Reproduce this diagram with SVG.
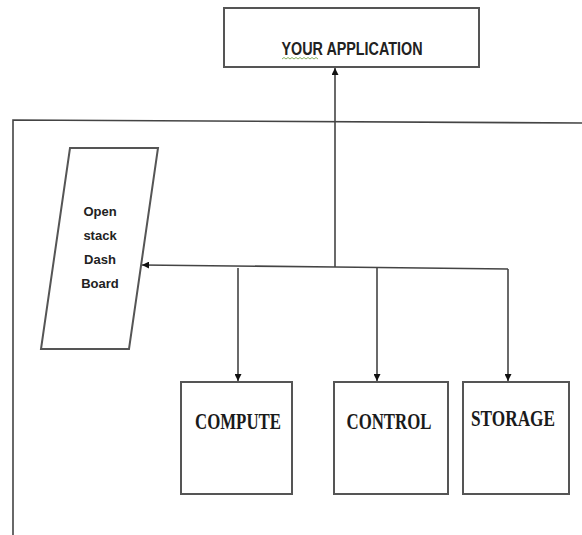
<svg xmlns="http://www.w3.org/2000/svg" width="582" height="535" viewBox="0 0 582 535">
<defs>
<marker id="ah" viewBox="0 0 10 10" refX="10" refY="5" markerWidth="7" markerHeight="7" markerUnits="userSpaceOnUse" orient="auto">
<path d="M0,0 L10,5 L0,10 z" fill="#111"/>
</marker>
<style>
.box{fill:#fff;stroke:#555;stroke-width:2}
.ln{fill:none;stroke:#444;stroke-width:1.6}
.serif{font-family:"Liberation Serif","Times New Roman",serif;font-weight:bold;font-size:23px;fill:#1a1a1a}
.sans{font-family:"Liberation Sans",Arial,sans-serif;font-weight:bold;fill:#222}
</style>
</defs>
<rect width="582" height="535" fill="#fff"/>
<g id="frame">
<path class="ln" d="M13,535 L13,120 L582,123" stroke="#777" stroke-width="2"/>
</g>
<g id="app">
<rect class="box" x="224" y="8" width="255" height="59"/>
<text class="sans" x="352" y="55" font-size="18.5" text-anchor="middle" textLength="141" lengthAdjust="spacingAndGlyphs">YOUR APPLICATION</text>
<path d="M282,59 l2,-1.5 l2,1.5 l2,-1.5 l2,1.5 l2,-1.5 l2,1.5 l2,-1.5 l2,1.5 l2,-1.5 l2,1.5 l2,-1.5 l2,1.5 l2,-1.5 l2,1.5 l2,-1.5 l2,1.5 l2,-1.5 l2,1.5" fill="none" stroke="#6a9a3a" stroke-width="0.8"/>
</g>
<g id="dashboard">
<polygon class="box" points="70,148 158,148 129,349 41,349"/>
<g class="sans" font-size="13" text-anchor="middle">
<text x="100" y="216">Open</text>
<text x="100" y="240">stack</text>
<text x="100" y="264">Dash</text>
<text x="100" y="288">Board</text>
</g>
</g>
<g id="compute">
<rect class="box" x="181" y="382" width="111" height="112"/>
<text class="serif" x="238" y="429" text-anchor="middle" textLength="86" lengthAdjust="spacingAndGlyphs">COMPUTE</text>
</g>
<g id="control">
<rect class="box" x="334" y="382" width="114" height="112"/>
<text class="serif" x="389" y="429" text-anchor="middle" textLength="85" lengthAdjust="spacingAndGlyphs">CONTROL</text>
</g>
<g id="storage">
<rect class="box" x="463" y="382" width="106" height="112"/>
<text class="serif" x="513" y="426" text-anchor="middle" textLength="84" lengthAdjust="spacingAndGlyphs">STORAGE</text>
</g>
<g id="connectors">
<path class="ln" d="M335,267 L335,68" marker-end="url(#ah)"/>
<path class="ln" d="M508,269 L335,267 L142,265" marker-end="url(#ah)"/>
<path class="ln" d="M238,268 L238,381" marker-end="url(#ah)"/>
<path class="ln" d="M377,268 L377,381" marker-end="url(#ah)"/>
<path class="ln" d="M508,269 L508,381" marker-end="url(#ah)"/>
</g>
</svg>
